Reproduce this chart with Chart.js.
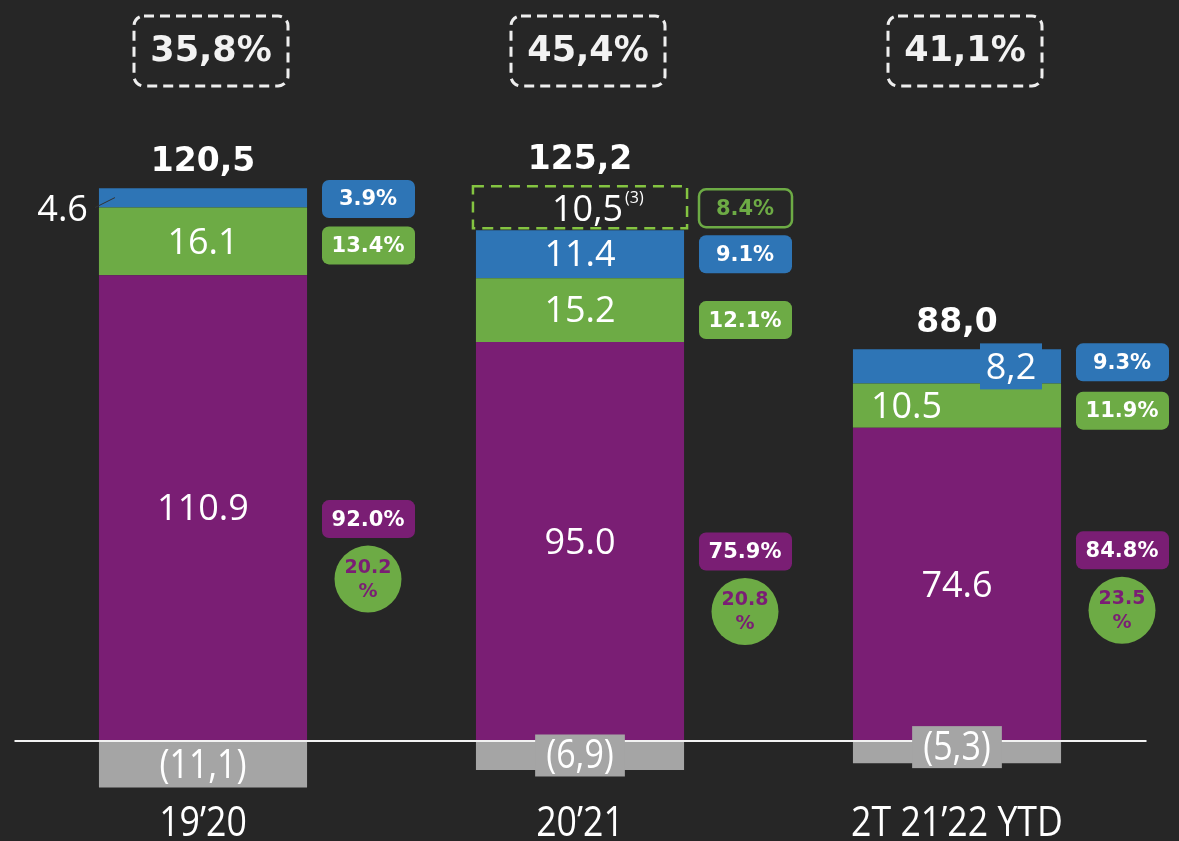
<!DOCTYPE html>
<html>
<head>
<meta charset="utf-8">
<script src="https://cdn.jsdelivr.net/npm/chart.js@4"></script>
<style>
  html, body { margin: 0; padding: 0; background: #262626; }
  canvas { display: block; }
</style>
</head>
<body>
<canvas id="ebitdaChart" width="1179" height="841"></canvas>
<script>
// Data
const categories = ['19’20', '20’21', '2T 21’22 YTD'];
const purpleValues = [110.9, 95.0, 74.6];
const greenValues = [16.1, 15.2, 10.5];
const blueValues = [4.6, 11.4, 8.2];
const extraValues = [null, 10.5, null];
const negativeValues = [-11.1, -6.9, -5.3];
const marginLabels = ['35,8%', '45,4%', '41,1%'];
const purpleShare = ['92.0%', '75.9%', '84.8%'];
const greenShare = ['13.4%', '12.1%', '11.9%'];
const blueShare = ['3.9%', '9.1%', '9.3%'];
const extraShare = [null, '8.4%', null];
const circleValues = ['20.2', '20.8', '23.5'];

const PURPLE = '#7A1E74';
const GREEN = '#6DAB45';
const BLUE = '#2E75B6';
const GRAY = '#A5A5A5';
const LIME = '#84C441';

const fmt = (v, sep) => v.toFixed(1).replace('.', sep);

function pill(ctx, cx, cy, text, fill, stroke, color) {
    ctx.save();
    ctx.beginPath();
    ctx.roundRect(cx - 46, cy - 19, 93, 38, 7);
    if (fill) { ctx.fillStyle = fill; ctx.fill(); }
    if (stroke) { ctx.strokeStyle = stroke; ctx.lineWidth = 2.5; ctx.stroke(); }
    ctx.fillStyle = color;
    ctx.font = 'bold 21px "DejaVu Sans"';
    ctx.textAlign = 'center';
    ctx.textBaseline = 'middle';
    ctx.fillText(text, cx, cy + 1);
    ctx.restore();
}

// narrow text: regular font squeezed horizontally
function narrowText(ctx, text, x, y, size, squeeze) {
    ctx.save();
    ctx.translate(x, y);
    ctx.scale(squeeze, 1);
    ctx.font = size + 'px "Open Sans"';
    ctx.textAlign = 'center';
    ctx.textBaseline = 'middle';
    ctx.fillText(text, 0, 0);
    ctx.restore();
}

const annotate = {
    id: 'annotate',
    afterDatasetsDraw(chart) {
        const ctx = chart.ctx;
        const area = chart.chartArea;
        const yZero = chart.scales.y.getPixelForValue(0);
        const el = (d, i) => chart.getDatasetMeta(d).data[i];
        const mid = (e) => (e.y + e.base) / 2;

        // zero line
        ctx.save();
        ctx.strokeStyle = '#F2F2F2';
        ctx.lineWidth = 2;
        ctx.beginPath();
        ctx.moveTo(area.left, yZero);
        ctx.lineTo(area.right + 1, yZero);
        ctx.stroke();
        ctx.restore();

        const greenShift = [4, 10, 5];
        const blueShift = [1, 0, -4];
        const purpleShift = [11, 10, -34];
        const negShift = [1, 0, -5];

        categories.forEach((cat, i) => {
            const p = el(0, i), g = el(1, i), b = el(2, i), ex = el(3, i), n = el(4, i);
            const x = p.x, w = p.width, left = x - w / 2;
            const top = extraValues[i] != null ? ex.y : b.y;

            ctx.save();
            ctx.textAlign = 'center';
            ctx.textBaseline = 'middle';

            // dashed box on top of the 2nd bar
            if (extraValues[i] != null) {
                ctx.save();
                ctx.strokeStyle = LIME;
                ctx.lineWidth = 2.5;
                ctx.setLineDash([11, 7]);
                ctx.strokeRect(left - 3, ex.y, w + 6, ex.base - ex.y - 2);
                ctx.restore();
                ctx.fillStyle = '#FFFFFF';
                ctx.font = '36px "Open Sans"';
                ctx.textAlign = 'left';
                ctx.fillText(fmt(extraValues[i], ','), x - 28, mid(ex) + 3);
                const tw = ctx.measureText(fmt(extraValues[i], ',')).width;
                ctx.font = '16px "Open Sans"';
                ctx.fillText('(3)', x - 28 + tw + 2, mid(ex) - 10);
                ctx.textAlign = 'center';
            }

            // in-bar values
            ctx.fillStyle = '#FFFFFF';
            ctx.font = '36px "Open Sans"';
            ctx.fillText(fmt(purpleValues[i], '.'), x, mid(p) + 2);
            if (i === 2) {
                ctx.textAlign = 'left';
                ctx.fillText(fmt(greenValues[i], '.'), left + 18, mid(g) + 2);
                ctx.textAlign = 'center';
            } else {
                ctx.fillText(fmt(greenValues[i], '.'), x, mid(g) + 2);
            }
            if (i === 0) {
                ctx.textAlign = 'right';
                ctx.fillText(fmt(blueValues[i], '.'), left - 11, mid(b) + 13);
                ctx.textAlign = 'center';
                ctx.strokeStyle = '#333333';
                ctx.lineWidth = 1;
                ctx.beginPath();
                ctx.moveTo(left - 4, b.base);
                ctx.lineTo(left + 16, b.base - 10);
                ctx.stroke();
            } else if (i === 2) {
                const bx = x + 54;
                ctx.fillStyle = BLUE;
                ctx.fillRect(bx - 31, mid(b) - 23, 62, 46);
                ctx.fillStyle = '#FFFFFF';
                ctx.fillText(fmt(blueValues[i], ','), bx, mid(b) + 2);
            } else {
                ctx.fillText(fmt(blueValues[i], '.'), x, mid(b) + 2);
            }

            // negative part
            const negText = '(' + fmt(-negativeValues[i], ',') + ')';
            ctx.font = '40px "Open Sans"';
            const nw = ctx.measureText(negText).width * 0.85 + 22;
            const ny = mid(n) + negShift[i];
            ctx.fillStyle = GRAY;
            ctx.fillRect(x - nw / 2, ny - 21, nw, 42);
            ctx.fillStyle = '#FFFFFF';
            narrowText(ctx, negText, x, ny + 1, 40, 0.85);

            // total above the stack
            const total = purpleValues[i] + greenValues[i] + blueValues[i] + (extraValues[i] || 0) + negativeValues[i];
            ctx.font = 'bold 33px "DejaVu Sans"';
            ctx.fillText(fmt(total, ','), x, top - 26);

            // margin boxes at the top
            const mx = x + 8;
            ctx.save();
            ctx.strokeStyle = '#EEEEEE';
            ctx.lineWidth = 3;
            ctx.setLineDash([10, 6]);
            ctx.beginPath();
            ctx.roundRect(mx - 77, 16, 154, 70, 10);
            ctx.stroke();
            ctx.restore();
            ctx.fillStyle = '#F2F2F2';
            ctx.font = 'bold 35px "DejaVu Sans"';
            ctx.fillText(marginLabels[i], mx, 52);

            // category label
            ctx.fillStyle = '#FFFFFF';
            narrowText(ctx, cat, x, 824, 42, 0.85);
            ctx.restore();

            // share pills
            const px = x + 165;
            if (extraShare[i]) pill(ctx, px, mid(ex), extraShare[i], '#262626', GREEN, GREEN);
            pill(ctx, px, mid(b) + blueShift[i], blueShare[i], BLUE, null, '#FFFFFF');
            pill(ctx, px, mid(g) + greenShift[i], greenShare[i], GREEN, null, '#FFFFFF');
            const py = mid(p) + purpleShift[i];
            pill(ctx, px, py, purpleShare[i], PURPLE, null, '#FFFFFF');

            // circle
            ctx.save();
            ctx.beginPath();
            ctx.arc(px, py + 60, 33.5, 0, Math.PI * 2);
            ctx.fillStyle = GREEN;
            ctx.fill();
            ctx.fillStyle = PURPLE;
            ctx.font = 'bold 19px "DejaVu Sans"';
            ctx.textAlign = 'center';
            ctx.textBaseline = 'middle';
            ctx.fillText(circleValues[i], px, py + 49);
            ctx.fillText('%', px, py + 73);
            ctx.restore();
        });
    }
};

const config = {
    type: 'bar',
    data: {
        labels: categories,
        datasets: [
            { label: 'purple', data: purpleValues, backgroundColor: PURPLE },
            { label: 'green', data: greenValues, backgroundColor: GREEN },
            { label: 'blue', data: blueValues, backgroundColor: BLUE },
            { label: 'extra', data: extraValues, backgroundColor: 'rgba(0,0,0,0)' },
            { label: 'negative', data: negativeValues, backgroundColor: GRAY }
        ]
    },
    options: {
        responsive: false,
        animation: false,
        layout: { padding: { left: 14.5, right: 33.5, top: 0, bottom: 0 } },
        datasets: { bar: { barPercentage: 1, categoryPercentage: 0.552, borderWidth: 0 } },
        plugins: { legend: { display: false }, tooltip: { enabled: false } },
        scales: {
            x: { stacked: true, display: false },
            y: { stacked: true, display: false, min: -23.81, max: 176.43 }
        }
    },
    plugins: [annotate]
};

window.onload = () => {
    const ctx = document.getElementById('ebitdaChart').getContext('2d');
    new Chart(ctx, config);
};
</script>
</body>
</html>
